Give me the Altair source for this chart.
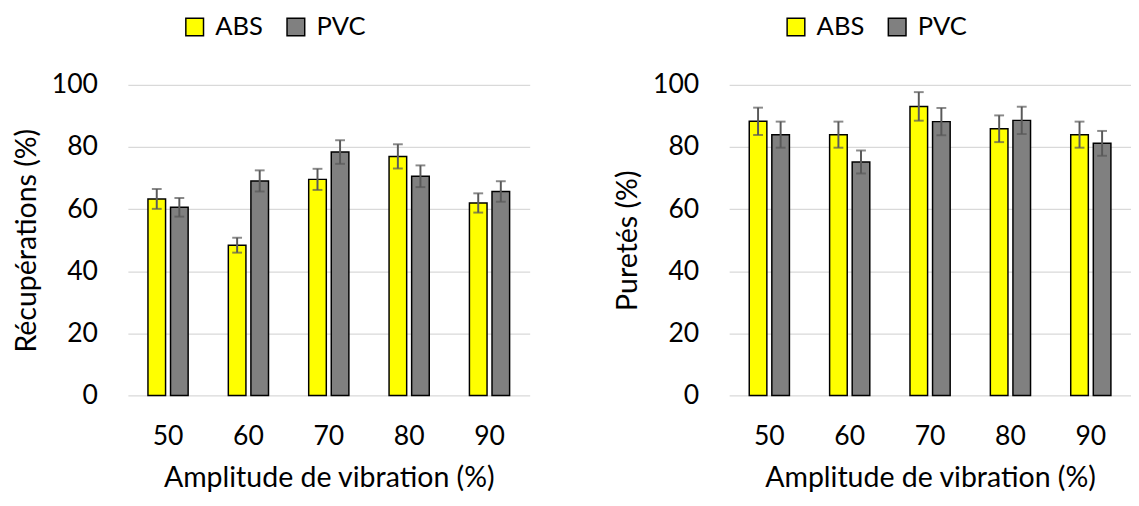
import altair as alt
import pandas as pd

amplitudes = ["50", "60", "70", "80", "90"]
materials = ["ABS", "PVC"]

rec_abs = [63.3, 48.4, 69.6, 77.0, 62.0]
rec_abs_err = [3.2, 2.4, 3.4, 3.9, 3.1]
rec_pvc = [60.6, 69.1, 78.4, 70.6, 65.7]
rec_pvc_err = [3.0, 3.4, 3.8, 3.5, 3.3]

pur_abs = [88.3, 84.0, 93.1, 85.9, 84.0]
pur_abs_err = [4.4, 4.2, 4.6, 4.3, 4.2]
pur_pvc = [84.0, 75.2, 88.2, 88.6, 81.2]
pur_pvc_err = [4.2, 3.7, 4.4, 4.4, 4.0]

FONT = "Lato"
TICK_FS = 27
XTITLE_FS = 29
YTITLE_FS = 29
LEG_FS = 26


def make_df(abs_v, abs_e, pvc_v, pvc_e):
    rows = []
    for i, a in enumerate(amplitudes):
        rows.append({"Amplitude": a, "Material": "ABS", "value": abs_v[i],
                     "lo": abs_v[i] - abs_e[i], "hi": abs_v[i] + abs_e[i]})
        rows.append({"Amplitude": a, "Material": "PVC", "value": pvc_v[i],
                     "lo": pvc_v[i] - pvc_e[i], "hi": pvc_v[i] + pvc_e[i]})
    return pd.DataFrame(rows)


def panel(df, ytitle, width, band_span):
    x = alt.X("Amplitude:N", sort=amplitudes,
              scale=alt.Scale(paddingInner=0.5, paddingOuter=0.25, range=[0, band_span]),
              axis=alt.Axis(title="Amplitude de vibration (%)", labelAngle=0,
                            domain=False, ticks=False, labelPadding=29,
                            titlePadding=15, labelFontSize=TICK_FS, titleFontSize=XTITLE_FS,
                            labelColor="#000000", titleColor="#000000",
                            titleFontWeight="normal"))
    xo = alt.XOffset("Material:N", sort=materials,
                     scale=alt.Scale(paddingInner=0.22, paddingOuter=0))
    yscale = alt.Scale(domain=[0, 100], nice=False)
    base = alt.Chart(df).encode(x=x, xOffset=xo)
    bars = base.mark_bar(stroke="black", strokeWidth=1.5).encode(
        y=alt.Y("value:Q", scale=yscale,
                axis=alt.Axis(title=ytitle, values=[0, 20, 40, 60, 80, 100],
                              domain=False, ticks=False, gridColor="#d9d9d9",
                              gridWidth=1.3, labelPadding=31, titlePadding=10,
                              labelFontSize=TICK_FS, titleFontSize=YTITLE_FS,
                              labelColor="#000000", titleColor="#000000",
                              titleFontWeight="normal")),
        color=alt.Color("Material:N", sort=materials,
                        scale=alt.Scale(domain=materials, range=["#FFFF00", "#808080"]),
                        legend=alt.Legend(title=None, orient="none", direction="horizontal",
                                          legendX=55, legendY=-72, symbolType="square",
                                          symbolSize=324, symbolStrokeColor="black",
                                          symbolStrokeWidth=1.5, symbolOpacity=1,
                                          labelFontSize=LEG_FS, labelColor="#000000",
                                          labelOffset=8, columnPadding=20, padding=0)),
    )
    rules = base.mark_rule(color="#595959", strokeWidth=2).encode(
        y=alt.Y("lo:Q", scale=yscale), y2="hi:Q")
    cap_hi = base.mark_tick(color="#595959", thickness=2, size=10, orient="horizontal").encode(
        y=alt.Y("hi:Q", scale=yscale))
    cap_lo = base.mark_tick(color="#595959", thickness=2, size=10, orient="horizontal").encode(
        y=alt.Y("lo:Q", scale=yscale))
    return alt.layer(bars, rules, cap_hi, cap_lo).properties(width=width, height=316)


left = panel(make_df(rec_abs, rec_abs_err, rec_pvc, rec_pvc_err), "Récupérations (%)", 409, 409)
right = panel(make_df(pur_abs, pur_abs_err, pur_pvc, pur_pvc_err), "Puretés (%)", 390, 409)

chart = alt.hconcat(left, right, spacing=86).resolve_scale(color="independent").properties(
    padding={"left": 5, "top": 2, "right": 0, "bottom": 0}
).configure(font=FONT).configure_view(stroke=None)

chart.save("out.html", embed_options={"renderer": "svg", "actions": False})
